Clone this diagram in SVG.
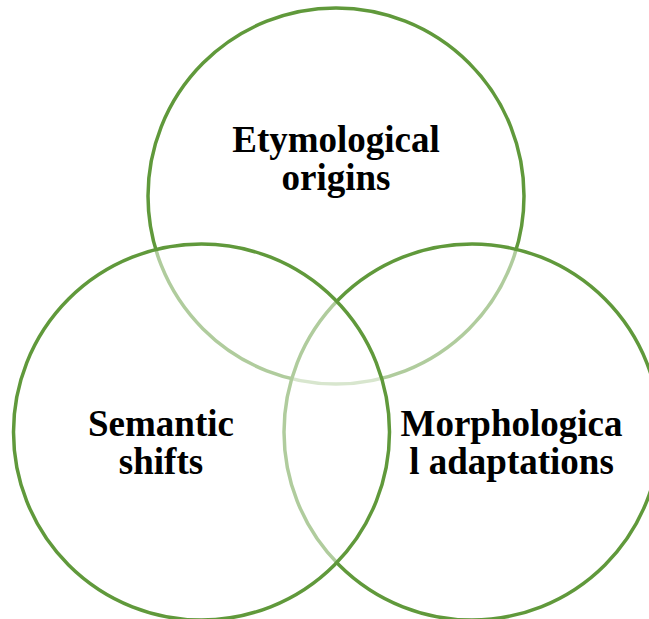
<svg xmlns="http://www.w3.org/2000/svg" width="649" height="619" viewBox="0 0 649 619">
<style>
.c{fill:#ffffff;fill-opacity:0.5;stroke:#60993b;stroke-width:3.5}
.t{font-family:"Liberation Serif","Times New Roman",serif;font-weight:bold;font-size:37px;fill:#000;text-anchor:middle}
</style>
<rect width="649" height="619" fill="#ffffff"/>
<g id="etymological">
<circle class="c" cx="336" cy="196" r="188"/>
</g>
<g id="morphological">
<circle class="c" cx="472" cy="432" r="188"/>
</g>
<g id="semantic">
<circle class="c" cx="201.5" cy="432" r="188"/>
</g>
<g id="labels">
<text class="t" x="336" y="152">Etymological</text>
<text class="t" x="336" y="190">origins</text>
<text class="t" x="161" y="436">Semantic</text>
<text class="t" x="161" y="474">shifts</text>
<text class="t" x="511.5" y="436">Morphologica</text>
<text class="t" x="511.5" y="474">l adaptations</text>
</g>
<g id="connectors"/>
</svg>
